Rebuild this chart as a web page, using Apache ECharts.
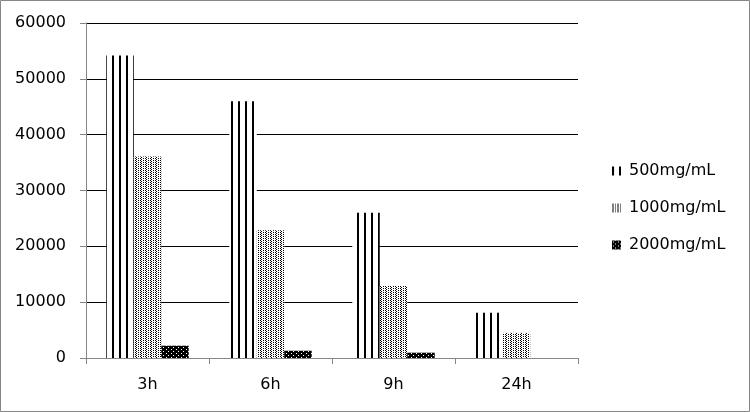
<!DOCTYPE html>
<html><head><meta charset="utf-8">
<script src="https://cdn.jsdelivr.net/npm/echarts@6/dist/echarts.min.js"></script>
<style>html,body{margin:0;padding:0;background:#fff}#c{width:750px;height:412px}</style>
</head><body><div id="c"></div>
<script>
const categories = ['3h', '6h', '9h', '24h'];
const seriesNames = ['500mg/mL', '1000mg/mL', '2000mg/mL'];
const s500 = [54200, 46000, 26000, 8100];
const s1000 = [36100, 22900, 12900, 4500];
const s2000 = [2200, 1300, 950, 0];
const yTicks = { min: 0, max: 60000, interval: 10000 };

function makePattern(kind) {
  const c = document.createElement('canvas');
  const ctx = c.getContext('2d');
  if (kind === 'lines') {
    c.width = 7; c.height = 4;
    ctx.fillStyle = '#fff'; ctx.fillRect(0, 0, 7, 4);
    ctx.fillStyle = '#000'; ctx.fillRect(0, 0, 2, 4);
  } else if (kind === 'dots') {
    c.width = 5; c.height = 2;
    ctx.fillStyle = '#fff'; ctx.fillRect(0, 0, 5, 2);
    ctx.fillStyle = '#000';
    ctx.fillRect(0, 0, 1, 1); ctx.fillRect(1, 1, 1, 1);
    ctx.fillRect(3, 0, 1, 1);
  } else {
    c.width = 5; c.height = 4;
    ctx.fillStyle = '#000'; ctx.fillRect(0, 0, 5, 4);
    ctx.fillStyle = '#fff';
    ctx.fillRect(1, 1, 1, 1); ctx.fillRect(3, 3, 1, 1);
  }
  return { image: c, repeat: 'repeat' };
}

const font = 'DejaVu Sans';
const chart = echarts.init(document.getElementById('c'));
chart.setOption({
  animation: false,
  backgroundColor: '#fff',
  textStyle: { fontFamily: font },
  graphic: [{
    type: 'rect', silent: true,
    shape: { x: 0.5, y: 0.5, width: 749, height: 411 },
    style: { fill: 'none', stroke: '#868686', lineWidth: 1 }
  }],
  grid: { left: 86, right: 172, top: 23, bottom: 54 },
  legend: {
    orient: 'vertical', left: 607, top: 158, itemGap: 21,
    itemWidth: 9, itemHeight: 9, icon: 'rect',
    textStyle: { fontFamily: font, fontSize: 16, color: '#000', padding: [0, 0, 0, 3] },
    data: seriesNames
  },
  xAxis: {
    type: 'category', data: categories,
    axisLine: { lineStyle: { color: '#868686' } },
    axisTick: { show: true, length: 6, lineStyle: { color: '#868686' } },
    axisLabel: { color: '#000', fontSize: 16, margin: 19, fontFamily: font }
  },
  yAxis: {
    type: 'value', min: yTicks.min, max: yTicks.max, interval: yTicks.interval,
    axisLine: { show: true, lineStyle: { color: '#868686' } },
    axisTick: { show: true, length: 6, lineStyle: { color: '#868686' } },
    axisLabel: { color: '#000', fontSize: 16, margin: 20, fontFamily: font,
      formatter: v => String(v) },
    splitLine: { lineStyle: { color: '#000', width: 1 } }
  },
  series: [
    { name: seriesNames[0], type: 'bar', data: s500, barGap: '0%', barCategoryGap: '33%',
      itemStyle: { color: makePattern('lines') } },
    { name: seriesNames[1], type: 'bar', data: s1000,
      itemStyle: { color: makePattern('dots') } },
    { name: seriesNames[2], type: 'bar', data: s2000,
      itemStyle: { color: makePattern('dark') } }
  ]
});
</script></body></html>
